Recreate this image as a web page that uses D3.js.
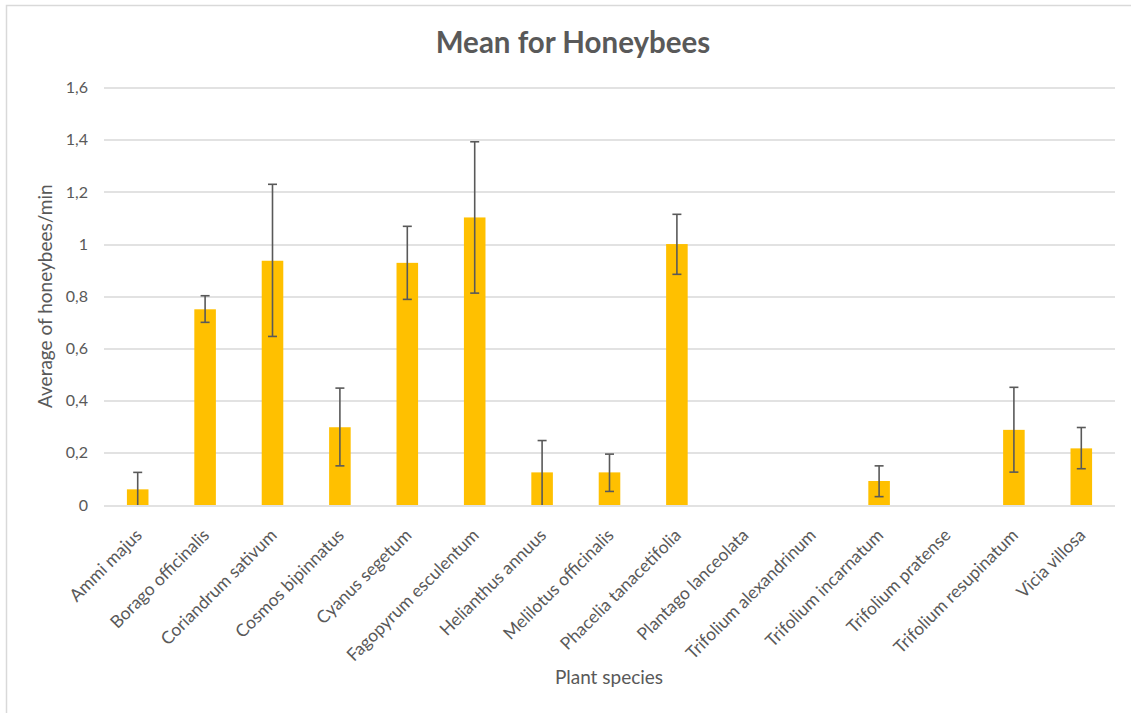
<!DOCTYPE html>
<html>
<head>
<meta charset="utf-8">
<script src="https://cdn.jsdelivr.net/npm/d3@7"></script>
<style>
  body { margin: 0; background: #fff; }
  svg text { font-family: Lato, "Open Sans", sans-serif; fill: #595959; }
</style>
</head>
<body>
<div id="chart"></div>
<script>
// chart data
var species = ["Ammi majus", "Borago officinalis", "Coriandrum sativum", "Cosmos bipinnatus",
    "Cyanus segetum", "Fagopyrum esculentum", "Helianthus annuus", "Melilotus officinalis",
    "Phacelia tanacetifolia", "Plantago lanceolata", "Trifolium alexandrinum",
    "Trifolium incarnatum", "Trifolium pratense", "Trifolium resupinatum", "Vicia villosa"];
var means = [0.06, 0.75, 0.936, 0.298, 0.928, 1.102, 0.125, 0.125, 1.0, 0, 0, 0.092, 0, 0.288, 0.217];
var errPlus = [0.065, 0.052, 0.293, 0.15, 0.14, 0.29, 0.122, 0.07, 0.114, null, null, 0.058, null, 0.163, 0.08];
var errMinus = [0.06, 0.05, 0.29, 0.148, 0.14, 0.29, 0.125, 0.073, 0.116, null, null, 0.06, null, 0.162, 0.078];
var yTicks = [0, 0.2, 0.4, 0.6, 0.8, 1, 1.2, 1.4, 1.6];

var W = 1131, H = 713;
var margin = {top: 87.5, right: 16, bottom: 208, left: 104};
var width = W - margin.left - margin.right,
    height = H - margin.top - margin.bottom;

var svg = d3.select("#chart").append("svg")
    .attr("width", W)
    .attr("height", H);

// outer chart border (only top/left show in the picture)
svg.append("rect")
    .attr("x", 6.5).attr("y", 5.5)
    .attr("width", W + 20).attr("height", H + 20)
    .attr("fill", "none")
    .attr("stroke", "#d9d9d9")
    .attr("stroke-width", 1.5);

var g = svg.append("g")
    .attr("transform", "translate(" + margin.left + "," + margin.top + ")");

var x = d3.scaleBand().domain(species).range([0, width]).paddingInner(0.68).paddingOuter(0.34);
var y = d3.scaleLinear().domain([0, 1.6]).range([height, 0]);

// gridlines
g.selectAll(".grid")
    .data(yTicks)
    .enter().append("line")
    .attr("x1", 0).attr("x2", width)
    .attr("y1", function(d) { return Math.round(y(d)) + 0.5; })
    .attr("y2", function(d) { return Math.round(y(d)) + 0.5; })
    .attr("stroke", "#d9d9d9")
    .attr("stroke-width", 1.5);

// y axis labels
var yAxis = d3.axisLeft(y).tickValues(yTicks).tickSize(0).tickPadding(16)
    .tickFormat(function(d) { return String(d).replace(".", ","); });
var yg = g.append("g").call(yAxis);
yg.select(".domain").remove();
yg.selectAll("text").style("font-size", "16px").style("font-family", "Lato").style("fill", "#595959");

// bars
g.selectAll(".bar")
    .data(means)
    .enter().append("rect")
    .attr("x", function(d, i) { return x(species[i]); })
    .attr("width", x.bandwidth())
    .attr("y", function(d) { return y(d); })
    .attr("height", function(d) { return height - y(d); })
    .attr("fill", "#ffc000");

// error bars
var errData = means.map(function(m, i) {
    return {name: species[i], lo: Math.max(0, m - errMinus[i]), hi: m + errPlus[i], clip: m - errMinus[i] <= 0};
}).filter(function(d, i) { return errPlus[i] !== null; });

var eb = g.selectAll(".err").data(errData).enter().append("g")
    .attr("transform", function(d) { return "translate(" + (x(d.name) + x.bandwidth() / 2) + ",0)"; });
eb.append("line")
    .attr("y1", function(d) { return y(d.lo); })
    .attr("y2", function(d) { return y(d.hi); })
    .attr("stroke", "#595959").attr("stroke-width", 1.6);
eb.append("line")
    .attr("x1", -4.5).attr("x2", 4.5)
    .attr("y1", function(d) { return y(d.hi); })
    .attr("y2", function(d) { return y(d.hi); })
    .attr("stroke", "#595959").attr("stroke-width", 1.6);
eb.filter(function(d) { return !d.clip; }).append("line")
    .attr("x1", -4.5).attr("x2", 4.5)
    .attr("y1", function(d) { return y(d.lo); })
    .attr("y2", function(d) { return y(d.lo); })
    .attr("stroke", "#595959").attr("stroke-width", 1.6);

// x labels, rotated
g.selectAll(".xlab")
    .data(species)
    .enter().append("text")
    .attr("transform", function(d) {
        return "translate(" + (x(d) + x.bandwidth() / 2 + 1) + "," + (height + 27) + ") rotate(-45)";
    })
    .attr("text-anchor", "end")
    .attr("dy", "0.35em")
    .style("font-size", "17.5px")
    .text(function(d) { return d; });

// title
svg.append("text")
    .attr("x", 573).attr("y", 53)
    .attr("text-anchor", "middle")
    .style("font-size", "29.5px")
    .style("font-weight", "bold")
    .text("Mean for Honeybees");

// axis titles
svg.append("text")
    .attr("transform", "translate(52," + (margin.top + height / 2) + ") rotate(-90)")
    .attr("text-anchor", "middle")
    .style("font-size", "19px")
    .text("Average of honeybees/min");

svg.append("text")
    .attr("x", 609).attr("y", 684)
    .attr("text-anchor", "middle")
    .style("font-size", "19px")
    .text("Plant species");
</script>
</body>
</html>
